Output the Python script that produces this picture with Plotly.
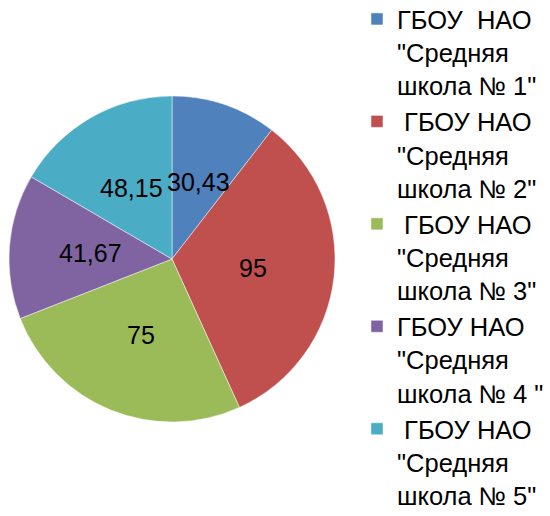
import math
import plotly.graph_objects as go

labels = [
    "ГБОУ\u00a0\u00a0НАО<br>\"Средняя<br>школа № 1\"",
    "\u00a0ГБОУ НАО<br>\"Средняя<br>школа № 2\"",
    "\u00a0ГБОУ НАО<br>\"Средняя<br>школа № 3\"",
    "ГБОУ НАО<br>\"Средняя<br>школа № 4 \"",
    "\u00a0ГБОУ НАО<br>\"Средняя<br>школа № 5\"",
]
values = [30.43, 95, 75, 41.67, 48.15]
colors = ["#4F81BD", "#C0504D", "#9BBB59", "#8064A2", "#4BACC6"]

W, H = 550, 516
dom_x = [9 / W, 335 / W]
dom_y = [1 - 422 / H, 1 - 96 / H]

fig = go.Figure(go.Pie(
    labels=labels, values=values, sort=False, direction="clockwise", rotation=0,
    marker=dict(colors=colors, line=dict(color="rgba(255,255,255,0.6)", width=0.8)),
    textinfo="none", hoverinfo="label+value",
    domain=dict(x=dom_x, y=dom_y),
))

# data labels placed at half radius along each slice's mid angle
cx = (dom_x[0] + dom_x[1]) / 2 * W
cy = (1 - (dom_y[0] + dom_y[1]) / 2) * H
R = min((dom_x[1] - dom_x[0]) * W, (dom_y[1] - dom_y[0]) * H) / 2
total = sum(values)
cum = 0
for v in values:
    mid = (cum + v / 2) / total * 2 * math.pi
    cum += v
    px = cx + 0.5 * R * math.sin(mid)
    py = cy - 0.5 * R * math.cos(mid)
    fig.add_annotation(
        x=px / W, y=1 - py / H, xref="paper", yref="paper",
        text=("%g" % v).replace(".", ","), showarrow=False,
        font=dict(size=25, color="black", family="Liberation Sans, Arial"),
        xanchor="center", yanchor="middle",
    )

fig.update_layout(
    width=W, height=H,
    margin=dict(l=0, r=0, t=0, b=0, autoexpand=False),
    paper_bgcolor="white", plot_bgcolor="white",
    font=dict(family="Liberation Sans, Arial", color="black"),
    legend=dict(
        x=357 / W, y=1.008, xanchor="left", yanchor="top",
        font=dict(size=25.5, color="black", family="Liberation Sans, Arial"),
        valign="top", bgcolor="rgba(0,0,0,0)", maxheight=600,
    ),
    showlegend=True,
)

fig.write_html(
    "out.html",
    config={"displayModeBar": False},
    post_script="document.body.style.margin='0';document.body.style.padding='0';",
)
